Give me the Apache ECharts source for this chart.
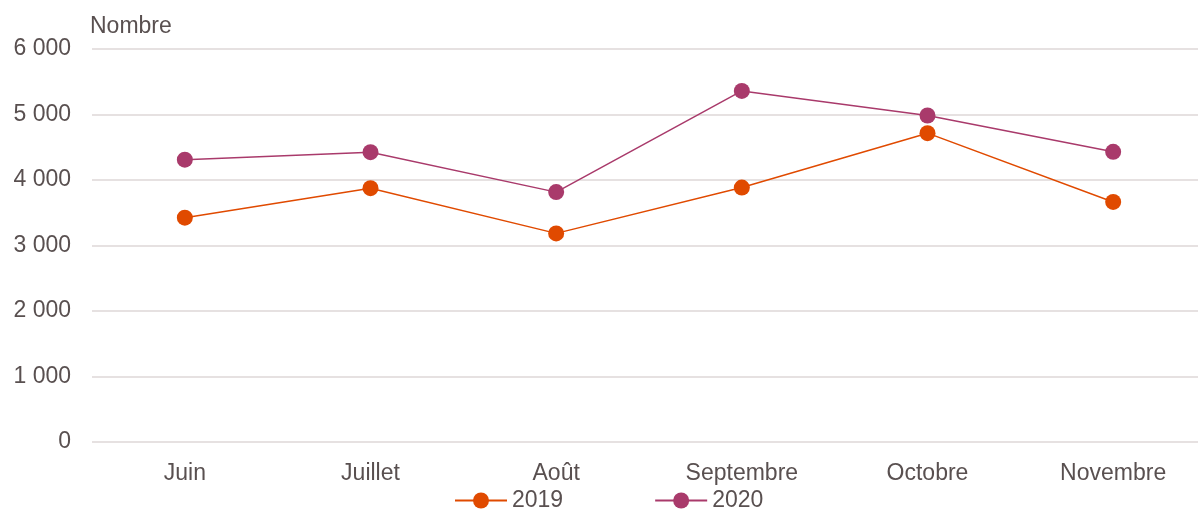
<!DOCTYPE html>
<html>
<head>
<meta charset="utf-8">
<script src="https://cdn.jsdelivr.net/npm/echarts@6/dist/echarts.min.js"></script>
<style>html,body{margin:0;padding:0;background:#fff;overflow:hidden}#c{width:1206px;height:510px}</style>
</head>
<body>
<div id="c"></div>
<script>
const categories = ['Juin', 'Juillet', 'Août', 'Septembre', 'Octobre', 'Novembre'];
const values2019 = [3425, 3875, 3185, 3885, 4715, 3665];
const values2020 = [4310, 4425, 3815, 5360, 4985, 4430];
const seriesNames = ['2019', '2020'];
const yTicks = [0, 1000, 2000, 3000, 4000, 5000, 6000];

const textColor = '#595050';
const font = '"Liberation Sans", Arial, sans-serif';
const chart = echarts.init(document.getElementById('c'), null, {renderer: 'canvas'});
chart.setOption({
  animation: false,
  title: {
    text: 'Nombre', left: 85, top: 10,
    textStyle: {fontSize: 23, fontWeight: 'normal', color: textColor, fontFamily: font}
  },
  grid: {left: 92, right: 0, top: 49, bottom: 68, containLabel: false},
  legend: {
    top: 484, left: 449,
    itemWidth: 52, itemHeight: 20, itemGap: 91,
    textStyle: {fontSize: 23, color: textColor, fontFamily: font},
    data: seriesNames
  },
  xAxis: {
    type: 'category', data: categories, boundaryGap: true,
    axisLine: {show: false}, axisTick: {show: false},
    axisLabel: {fontSize: 23, color: textColor, fontFamily: font, margin: 20}
  },
  yAxis: {
    type: 'value', min: yTicks[0], max: yTicks[yTicks.length - 1], interval: 1000,
    axisLine: {show: false}, axisTick: {show: false},
    splitLine: {lineStyle: {color: '#e6e1e1', width: 2}},
    axisLabel: {
      fontSize: 23, color: textColor, fontFamily: font, margin: 21,
      formatter: v => String(v).replace(/\B(?=(\d{3})+(?!\d))/g, ' ')
    }
  },
  series: [
    {name: seriesNames[0], type: 'line', data: values2019, symbol: 'circle', symbolSize: 16,
     itemStyle: {color: '#e04a00'}, lineStyle: {width: 1.5, color: '#e04a00'}},
    {name: seriesNames[1], type: 'line', data: values2020, symbol: 'circle', symbolSize: 16,
     itemStyle: {color: '#a93a6b'}, lineStyle: {width: 1.5, color: '#a93a6b'}}
  ]
});
</script>
</body>
</html>
